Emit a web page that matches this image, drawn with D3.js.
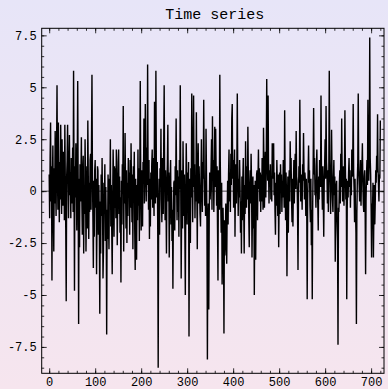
<!DOCTYPE html>
<html>
<head>
<meta charset="utf-8">
<script src="https://cdn.jsdelivr.net/npm/d3@7"></script>
<style>
  html, body { margin: 0; padding: 0; }
  svg { display: block; }
</style>
</head>
<body>
<svg id="chart" width="388" height="389"></svg>
<script>
const title = "Time series"

// one value per time step
const values = [
  0.8, -1.3, 1.6, 3.3, -0.5, 1.2, -4.3, 0.4, 2.2, -0.8, -2.9, 1.1, -0.6, 2.9, 0.3, -1.2, 1.8, 5.1, 0.6, -0.9,
  3.3, 0.2, -1.5, 1.4, -0.4, 3.2, 0.9, -1.1, 2.5, 0.1, -0.7, 1.9, 1.3, -1.4, 3.2, 0.5, -1.8, -5.3, 0.7, 1.5,
  3.2, 0.4, -1.3, 1.0, 2.7, -0.2, 0.9, -1.3, 1.6, -0.6, 0.3, 2.1, -1.0, 5.8, 0.8, -4.8, 1.2, -0.3, 2.3, 0.4,
  -1.9, 1.1, 5.3, 0.2, -6.4, 0.6, -2.7, 1.3, -0.5, 0.8, 2.6, -0.4, -2.1, 0.9, 1.7, -3.0, 0.3, -1.1, 2.5, 0.6,
  -2.9, -0.6, 1.2, -1.8, 3.4, 0.7, -2.3, 0.4, -1.0, 1.5, 1.8, -0.9, 2.4, 5.6, 0.9, -1.2, -3.7, 0.5, -2.2, 1.0,
  1.5, -0.8, 0.6, -4.0, -1.4, 1.2, 1.0, -2.1, 0.3, -1.6, -5.9, -0.5, -3.0, 0.8, -1.2, 1.6, -0.7, -4.2, -2.9, 0.4,
  -1.1, 1.3, -2.4, 0.2, -1.5, -6.9, -0.9, -2.3, 0.8, -1.4, -2.8, 0.6, -0.4, 2.5, -1.7, 0.3, -1.9, -4.0, -0.6, 2.0,
  0.5, -2.2, 1.2, -0.8, 1.1, -1.3, 2.0, 0.2, -2.6, -0.5, 1.4, 2.0, -1.1, 0.7, -2.0, -0.3, -4.4, 0.5, -1.6, 1.3,
  0.1, 4.1, -2.9, 0.9, -0.6, 2.8, 0.3, -1.8, 1.0, -2.5, 0.4, -1.2, 1.6, -0.3, 0.9, -2.1, 1.5, -0.8, 2.3, 0.2,
  -1.5, 0.8, -2.8, 1.2, -0.4, 1.9, -1.9, -3.8, 0.6, -1.0, -3.3, 0.3, -1.4, 2.0, -0.7, 1.1, -2.4, 0.5, 5.3, 0.9,
  -1.9, 1.0, 0.2, -1.7, 1.4, 0.4, 3.5, -0.6, 1.2, 4.2, 1.0, -0.5, 2.1, 0.3, 6.1, 1.1, -0.9, 1.5, -2.3, 0.6,
  -1.7, 0.9, -0.4, 1.3, 2.0, -0.8, 1.6, 0.2, -1.2, 4.3, 0.7, -0.6, 5.8, 1.2, -0.3, 1.4, -1.8, -8.5, -1.0, 0.6,
  -2.1, 1.1, 0.2, 3.0, -0.4, -1.5, 1.6, 0.5, -1.1, 2.2, 5.1, 0.8, -1.4, 1.0, -0.6, -3.0, 0.4, 1.3, 3.2, -0.5,
  0.9, -3.2, -0.8, 0.6, 1.5, -1.6, 0.2, -2.4, -0.9, -4.7, -1.3, 0.4, 0.5, -1.9, 1.2, -0.2, 3.5, 0.6, -1.4, 1.0,
  -1.0, 0.7, -2.2, 1.5, 0.1, 5.1, 0.4, -4.2, -0.7, 1.0, -1.8, 2.4, 0.3, -1.2, 0.8, -2.0, -5.0, -0.4, 2.3, 0.5,
  -1.6, 0.9, -1.0, 1.4, -7.0, -1.2, 0.6, -2.5, 1.1, -0.3, 4.7, 0.8, -1.5, 1.6, 4.6, 0.2, 1.3, -1.3, 0.7, -0.5,
  3.8, 0.4, -2.8, 0.9, 2.3, -0.6, 1.2, 0.1, -1.1, -1.7, 0.5, 2.5, 0.3, -1.0, 1.4, 0.6, 4.4, 1.0, -0.7, 0.5,
  -1.2, 3.0, 0.8, -1.4, -8.1, -2.0, -0.6, -5.7, -1.1, 0.9, -0.4, 0.3, 1.2, 2.5, -0.9, 3.6, 0.7, 1.5, -1.0, 0.6,
  3.1, 0.2, 3.0, 1.0, -0.7, 1.2, -1.8, -4.3, 1.0, 0.3, -0.9, 5.6, 1.4, -0.5, -2.0, 0.4, -4.5, -2.9, -0.8, -2.2,
  -6.85, -1.4, -3.1, -2.5, -0.6, -2.0, -3.5, -1.0, 0.5, -1.6, 0.8, 2.0, -0.5, 0.9, -1.0, 1.8, 0.3, 3.5, 4.2, 0.6,
  1.5, -0.8, 0.9, 2.0, -2.2, 0.4, 1.3, -0.6, 1.1, 4.7, 0.8, -1.2, 0.6, -0.3, 1.5, 0.2, -2.0, -0.5, -3.0, 0.7,
  -1.4, 0.5, 1.6, -0.9, -3.0, 0.3, -1.1, 2.4, 0.6, -0.8, 1.2, -0.4, 3.1, 0.9, -1.3, -2.7, 0.2, 1.0, -0.6, 1.8,
  0.4, -3.2, -0.9, 0.7, -1.8, 0.3, -5.0, -1.2, 0.5, -3.3, -0.7, 0.8, 1.0, -1.4, 0.6, 2.0, 0.1, 1.1, -0.5, 0.9,
  -1.0, 0.8, -0.5, 1.6, 0.3, -0.9, 3.05, 1.2, -0.8, 0.6, 1.9, -0.3, 1.4, 5.4, 1.7, 0.5, 4.6, 0.9, -0.6, 1.0,
  0.2, 1.3, -0.4, 0.7, -0.5, 2.3, 0.6, 1.1, 2.3, -0.2, 0.9, -1.0, -2.1, 0.4, -0.7, 1.5, 0.3, -1.2, 0.8, -2.7,
  -0.5, 0.9, -1.1, 1.3, 0.2, 0.8, -1.0, 0.5, -0.3, 1.5, 0.4, -0.8, 3.9, 0.6, -1.4, 0.9, -0.2, -4.1, -0.6, 0.7,
  -2.0, 0.3, 1.0, -0.5, 2.4, 0.8, 1.6, -0.4, -1.5, 0.6, -1.7, 0.2, 1.5, -0.6, 0.9, 1.8, 0.1, 2.9, 0.7, 0.5,
  -0.9, -3.8, -0.3, 1.2, 0.4, 4.4, 1.0, -0.5, 0.8, 0.2, -0.9, 1.3, 0.5, 2.8, 1.1, -0.4, 0.9, 0.5, -1.2, 0.6,
  -0.8, -5.2, -0.5, 0.9, 2.2, 0.4, 1.0, -0.7, -1.5, 0.6, -2.6, -0.9, -5.2, -0.6, 1.3, 4.0, 0.8, 1.6, -0.2, 0.5,
  -0.8, 1.2, 2.0, 0.3, -0.6, -1.9, 0.7, -0.4, 1.5, 1.0, 0.2, 4.6, 1.1, 0.3, -0.9, 1.2, -0.5, -2.2, 0.4, 1.3,
  2.5, 0.6, 4.1, 1.4, 0.8, -0.6, 1.0, -1.0, 0.9, 5.8, 1.5, 0.3, -1.1, 0.6, 2.95, 0.8, -0.4, -1.0, 0.5, 1.5,
  -0.2, 0.7, -3.4, -1.2, 0.3, 0.5, -1.5, -2.4, -7.4, -0.8, -1.0, 0.4, 1.0, -0.6, 1.8, 0.2, 3.5, 0.9, -0.5, 0.0,
  1.2, -0.7, 0.8, 3.9, 1.3, -0.4, 0.6, -5.2, -0.9, 0.5, -0.3, 0.9, 1.6, 0.2, 1.0, -0.8, 0.6, -0.2, 2.0, 0.7,
  1.3, 4.2, 0.9, 0.1, -1.5, 0.6, -0.9, -2.0, -6.4, -1.1, 0.5, 1.4, 4.7, 1.0, 0.3, -0.5, 0.8, 1.5, -0.7, 0.6,
  1.1, 2.3, 0.4, -0.6, -1.0, 0.7, 1.0, -0.9, -4.0, -0.4, 0.8, 1.5, 0.3, 4.4, 1.2, 0.5, 1.8, 7.4, 1.6, 0.8,
  -0.8, -3.2, -0.6, -1.0, 0.4, -3.2, -1.1, 0.3, -1.6, -0.5, 1.0, 0.4, 1.7, 0.9, 3.7, 1.1, 0.3, -0.5, 0.8, 0.6,
  3.4
]

const xTicks = [0, 100, 200, 300, 400, 500, 600, 700]
const xMinorTicks = d3.range(0, 721, 20)
const yTicks = [-7.5, -5, -2.5, 0, 2.5, 5, 7.5]
const yMinorTicks = d3.range(-8.5, 7.6, 0.5)

const svg = d3.select("#chart")

const grad = svg.append("defs")
    .append("linearGradient")
    .attr("id", "bg")
    .attr("x1", 0).attr("y1", 0)
    .attr("x2", 0).attr("y2", 1)
grad.append("stop").attr("offset", "0%").attr("stop-color", "#e7e5f8")
grad.append("stop").attr("offset", "100%").attr("stop-color", "#f6e5ee")

svg.append("rect")
    .attr("width", 388).attr("height", 389)
    .attr("fill", "url(#bg)")

const plotLeft = 41.7, plotRight = 384, plotTop = 28.3, plotBottom = 373.3

const x = d3.scaleLinear().domain([-16.3, 728]).range([plotLeft, plotRight])
const y = d3.scaleLinear().domain([-8.77, 7.84]).range([plotBottom, plotTop])

const font = "'Liberation Mono', 'DejaVu Sans Mono', monospace"

// zero line
svg.append("line")
    .attr("x1", plotLeft).attr("x2", plotRight)
    .attr("y1", y(0)).attr("y2", y(0))
    .attr("stroke", "#222")
    .attr("stroke-width", 0.8)

// the series
svg.append("path")
    .datum(values)
    .attr("fill", "none")
    .attr("stroke", "#000")
    .attr("stroke-width", 1.4)
    .attr("d", d3.line().x((d, i) => x(i)).y((d) => y(d)))

// frame
svg.append("rect")
    .attr("x", plotLeft).attr("y", plotTop)
    .attr("width", plotRight - plotLeft).attr("height", plotBottom - plotTop)
    .attr("fill", "none")
    .attr("stroke", "#000")
    .attr("stroke-width", 1)

function styleAxis(g) {
    g.select(".domain").remove()
    g.selectAll("line").attr("stroke", "#000").attr("stroke-width", 0.8)
    g.selectAll("text")
        .attr("fill", "#000")
        .style("font-family", font)
        .style("font-size", "12px")
}

const fmt = (d) => String(d)

// bottom
svg.append("g")
    .attr("transform", `translate(0, ${plotBottom})`)
    .call(d3.axisBottom(x).tickValues(xMinorTicks).tickSize(-2.5).tickFormat(""))
    .call(styleAxis)
svg.append("g")
    .attr("transform", `translate(0, ${plotBottom})`)
    .call(d3.axisBottom(x).tickValues(xTicks).tickSize(-5).tickPadding(4.5).tickFormat(fmt))
    .call(styleAxis)

// top (mirror)
svg.append("g")
    .attr("transform", `translate(0, ${plotTop})`)
    .call(d3.axisTop(x).tickValues(xMinorTicks).tickSize(-2.5).tickFormat(""))
    .call(styleAxis)
svg.append("g")
    .attr("transform", `translate(0, ${plotTop})`)
    .call(d3.axisTop(x).tickValues(xTicks).tickSize(-5).tickFormat(""))
    .call(styleAxis)

// left
svg.append("g")
    .attr("transform", `translate(${plotLeft}, 0)`)
    .call(d3.axisLeft(y).tickValues(yMinorTicks).tickSize(-2.5).tickFormat(""))
    .call(styleAxis)
svg.append("g")
    .attr("transform", `translate(${plotLeft}, 0)`)
    .call(d3.axisLeft(y).tickValues(yTicks).tickSize(-5).tickPadding(5).tickFormat(fmt))
    .call(styleAxis)

// right (mirror)
svg.append("g")
    .attr("transform", `translate(${plotRight}, 0)`)
    .call(d3.axisRight(y).tickValues(yMinorTicks).tickSize(-2.5).tickFormat(""))
    .call(styleAxis)
svg.append("g")
    .attr("transform", `translate(${plotRight}, 0)`)
    .call(d3.axisRight(y).tickValues(yTicks).tickSize(-5).tickFormat(""))
    .call(styleAxis)

svg.append("text")
    .attr("x", (plotLeft + plotRight) / 2 + 2)
    .attr("y", 18.5)
    .attr("text-anchor", "middle")
    .style("font-family", font)
    .style("font-size", "15px")
    .attr("fill", "#000")
    .text(title)
</script>
</body>
</html>
